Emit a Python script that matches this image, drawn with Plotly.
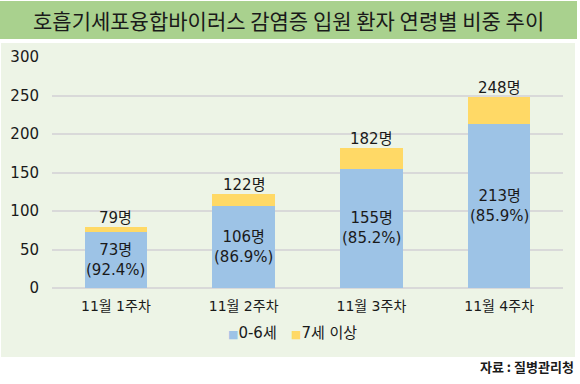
import plotly.graph_objects as go

categories = ["11월 1주차", "11월 2주차", "11월 3주차", "11월 4주차"]
age_0_6 = [73, 106, 155, 213]
age_7_plus = [6, 16, 27, 35]
totals = [79, 122, 182, 248]
share_0_6 = ["92.4%", "86.9%", "85.2%", "85.9%"]
y_ticks = [0, 50, 100, 150, 200, 250, 300]
series_names = ["0-6세", "7세 이상"]
series_colors = ["#9dc3e6", "#ffd966"]

FONT = "DejaVu Sans, Noto Sans CJK KR"
CJK = "Noto Sans CJK KR"
TXT = "#1a1a1a"

# plot area in pixels
L, R, T, B = 52, 563, 57, 288
PW, PH = R - L, B - T


def px(x):
    return (x - L) / PW


def py(y):
    return (B - y) / PH


fig = go.Figure()
fig.add_trace(go.Bar(
    x=categories, y=age_0_6, name=series_names[0],
    marker=dict(color=series_colors[0], line=dict(width=0)),
    width=0.49, showlegend=False,
))
fig.add_trace(go.Bar(
    x=categories, y=age_7_plus, name=series_names[1],
    marker=dict(color=series_colors[1], line=dict(width=0)),
    width=0.49, showlegend=False,
))

annotations = []
# value labels inside the 0-6 segment
for c, v, p in zip(categories, age_0_6, share_0_6):
    annotations.append(dict(
        x=c, y=v / 2, xref="x", yref="y", text=f"{v}명<br>({p})",
        showarrow=False, xanchor="center", yanchor="middle",
        font=dict(family=FONT, size=15, color=TXT)))
# totals above the stack
for c, t in zip(categories, totals):
    annotations.append(dict(
        x=c, y=t, xref="x", yref="y", text=f"{t}명",
        showarrow=False, xanchor="center", yanchor="bottom", yshift=-2,
        font=dict(family=FONT, size=15, color=TXT)))

legend_text = "   ".join(
    f"<span style='color:{c};font-size:11px'>■</span>{n}"
    for n, c in zip(series_names, series_colors)
)

annotations += [
    dict(text="호흡기세포융합바이러스 감염증 입원 환자 연령별 비중 추이",
         xref="paper", yref="paper", x=px(288), y=py(20),
         xanchor="center", yanchor="middle", showarrow=False,
         font=dict(family=CJK, size=21, color=TXT)),
    dict(text=legend_text,
         xref="paper", yref="paper", x=px(226), y=py(333),
         xanchor="left", yanchor="middle", showarrow=False,
         font=dict(family=FONT, size=15, color=TXT)),
    dict(text="<b>자료 : 질병관리청</b>",
         xref="paper", yref="paper", x=px(576), y=py(366),
         xanchor="right", yanchor="middle", showarrow=False,
         font=dict(family=CJK, size=13, color=TXT)),
]

fig.update_layout(
    width=580, height=384,
    barmode="stack",
    margin=dict(l=L, r=580 - R, t=T, b=384 - B, autoexpand=False),
    paper_bgcolor="white",
    plot_bgcolor="rgba(0,0,0,0)",
    font=dict(family=FONT, color=TXT),
    showlegend=False,
    hovermode=False,
    xaxis=dict(showgrid=False, showline=False, ticks="", automargin=False,
               ticklabelstandoff=8,
               tickfont=dict(family=FONT, size=14, color=TXT)),
    yaxis=dict(range=[0, 300], tickvals=y_ticks, showgrid=True, automargin=False,
               gridcolor="#d9d9d9", gridwidth=1.5, zeroline=True,
               zerolinecolor="#d9d9d9", zerolinewidth=1.5,
               ticks="", ticklabelstandoff=12,
               tickfont=dict(family=FONT, size=15, color=TXT)),
    shapes=[
        dict(type="rect", xref="paper", yref="paper", layer="below",
             x0=px(1), x1=px(575), y0=py(357), y1=py(43),
             fillcolor="#edf4e6", line=dict(width=0)),
        dict(type="rect", xref="paper", yref="paper", layer="below",
             x0=px(0), x1=px(577), y0=py(39), y1=py(1),
             fillcolor="#a9d18e", line=dict(width=0)),
    ],
    annotations=annotations,
)

fig.write_html("out.html", config={"displayModeBar": False},
               post_script="document.body.style.margin='0';")
